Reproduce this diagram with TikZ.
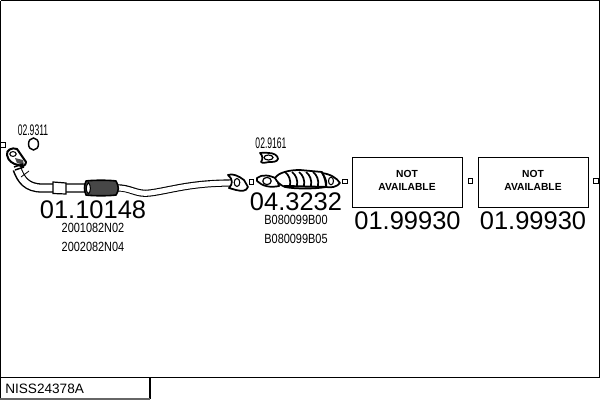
\documentclass[tikz,border=0pt]{standalone}
\usepackage{fontspec}
\usetikzlibrary{shapes.geometric}
\setmainfont{Liberation Sans}
\tikzset{
 frameline/.style={draw=black,line width=1.1pt},
 partnum/.style={inner sep=0pt,anchor=center,font=\fontsize{19.1}{19}\selectfont},
 smallnum/.style={inner sep=0pt,anchor=center,font=\fontsize{11.5}{11}\selectfont,xscale=0.56},
 refnum/.style={inner sep=0pt,anchor=center,font=\fontsize{10}{10}\selectfont,xscale=0.82},
 partbox/.style={draw=black,line width=0.9pt,fill=white,inner sep=0pt,minimum width=82.5pt,minimum height=37.5pt,anchor=north west},
 tick/.style={draw=black,line width=0.6pt,fill=white,minimum size=3.2pt,inner sep=0pt},
 pipe/.style={line width=0.9pt,fill=white,draw=black,line join=round},
 natext/.style={inner sep=0pt,align=center,font=\fontsize{7.7}{9.8}\selectfont\bfseries},
}
\begin{document}
\begin{tikzpicture}[x=0.75pt,y=-0.75pt]
\useasboundingbox (0,0) rectangle (600,400);
\fill[white] (0,0) rectangle (600,400);
\draw[frameline] (0.5,0.5) -- (600,0.5);
\draw[frameline] (0.5,0.5) -- (0.5,399.5);
\draw[line width=1.1pt] (0,377.5) -- (600,377.5);
\draw[line width=0.9pt] (150,378) -- (150,398.5);
\draw[line width=1.4pt,draw=black!60] (0,398.8) -- (150,398.8);
\draw[line width=0.9pt] (599.5,0) -- (599.5,378);
\node[inner sep=0pt,anchor=west,font=\fontsize{10.2}{10}\selectfont] (code) at (5,389) {NISS24378A};
% connectors ticks
\node[tick] (t1) at (3,145) {};
\node[tick] (t2) at (251.5,182) {};
\node[tick] (t3) at (345,181.5) {};
\node[tick] (t4) at (470.5,181) {};
\node[tick] (t5) at (596,181) {};
% front pipe
\draw[line width=7pt,line join=round] (17,169) .. controls (21,180) and (27,188) .. (42,188) -- (86,188);
\draw[line width=5pt,white,line join=round] (17,168) .. controls (21,180) and (27,188) .. (42,188) -- (87,188);
\draw[line width=5.4pt] (116,188) .. controls (130,187) and (136,195) .. (150,193) .. controls (172,190) and (190,183) .. (232,183);
\draw[line width=3.8pt,white] (114,188) .. controls (130,187) and (136,195) .. (150,193) .. controls (172,190) and (190,183) .. (234,183);
% sleeve
\draw[line width=0.9pt,fill=white] (53,182) -- (66,183) -- (66,194) -- (53,193.5) -- cycle;
\draw[line width=0.6pt] (21,177) -- (29,171);
% muffler
\draw[pipe,line width=1.2pt,fill=black!72] (86,181) .. controls (92,180) and (110,180) .. (116,181) .. controls (119,186) and (119,191) .. (116,195) .. controls (110,196) and (92,196) .. (86,195) .. controls (84,190) and (84,186) .. (86,181) -- cycle;
\draw[pipe,fill=white,line width=0.8pt] (88.5,182.5) .. controls (91,186) and (91,191) .. (88.5,194) .. controls (85.5,191) and (85.5,186) .. (88.5,182.5) -- cycle;
% manifold flange
\draw[pipe,line width=1.5pt] (7,155) .. controls (6,150) and (12,147) .. (17,149) -- (26,162) .. controls (26,166) and (22,167) .. (18,165) .. controls (13,164) and (8,161) .. (7,155) -- cycle;
\fill[black!70] (15,158) -- (23,160) -- (24,165) -- (17,163) -- cycle;
\draw[line width=0.8pt,fill=white] (13,154) ellipse[x radius=3.2,y radius=2.4];
\draw[line width=1.1pt,fill=white] (14,167) -- (23,164);
\draw[line width=1.1pt] (15,170) -- (24,167);
% gasket ring
\node[draw=black,line width=1.1pt,ellipse,minimum width=7.5pt,minimum height=9pt,inner sep=0pt] (ring1) at (33.5,144) {};
% mid flange
\draw[pipe,line width=1.3pt] (228,175) .. controls (232,173) and (239,176) .. (244,180) -- (248,187) .. controls (246,192) and (241,191) .. (236,190) -- (229,188) .. controls (233,184) and (233,179) .. (228,175) -- cycle;
\draw[line width=0.8pt,fill=white] (237,182.5) ellipse[x radius=2.8,y radius=4];
% gasket 2
\draw[pipe,line width=1.3pt] (260,153) .. controls (263,152) and (266,153) .. (269,153) .. controls (273,153) and (278,155) .. (278,159) .. controls (277,162) and (273,162) .. (269,162) .. controls (266,162) and (263,164) .. (261,162) .. controls (263,159) and (263,156) .. (260,153) -- cycle;
\draw[line width=0.9pt,fill=white] (268.5,157.5) ellipse[x radius=4.5,y radius=2.5];
% catalyst
\draw[pipe,line width=1.3pt] (257,178) .. controls (262,174) and (270,175) .. (277,179) -- (279,186) .. controls (270,188) and (262,186) .. (257,181) -- cycle;
\draw[line width=0.9pt,fill=white] (267,181) ellipse[x radius=4.2,y radius=3.6];
\draw[pipe,line width=1.3pt] (275,178) .. controls (279,172) and (290,170) .. (300,170) -- (322,172) .. controls (325,178) and (326,183) .. (326,187) .. controls (315,189) and (295,189) .. (285,187) .. controls (280,185) and (277,182) .. (275,178) -- cycle;
\draw[line width=1.5pt] (284,186) -- (326,187);
\foreach \a/\b in {285/290,292/297,299/304,306/311,313/318}{
  \draw[line width=1.3pt] (\a,172) .. controls (\b-1,175) and (\b+1,180) .. (\b,186);
}
\draw[pipe,line width=1.3pt] (322,173) .. controls (330,174) and (337,178) .. (340,183) .. controls (337,187) and (331,188) .. (326,187) .. controls (327,183) and (326,178) .. (322,173) -- cycle;
\draw[line width=0.8pt] (331,181) ellipse[x radius=2.5,y radius=3.8];
% boxes
\node[partbox] (b1) at (352,157) {};
\node[partbox] (b2) at (478,157) {};
\node[natext] (b1t) at (407,180) {NOT\\AVAILABLE};
\node[natext] (b2t) at (533,180) {NOT\\AVAILABLE};
% labels
\node[smallnum] (a1) at (33,130) {02.9311};
\node[smallnum] (a2) at (271,143.5) {02.9161};
\node[partnum] (p1) at (93,210) {01.10148};
\node[partnum] (p2) at (296,201.5) {04.3232};
\node[partnum] (p3) at (407.5,221) {01.99930};
\node[partnum] (p4) at (533,221) {01.99930};
\node[refnum] (r1) at (93,228) {2001082N02};
\node[refnum] (r2) at (93,247) {2002082N04};
\node[refnum] (r3) at (296,220) {B080099B00};
\node[refnum] (r4) at (296,238.5) {B080099B05};
\end{tikzpicture}
\end{document}
